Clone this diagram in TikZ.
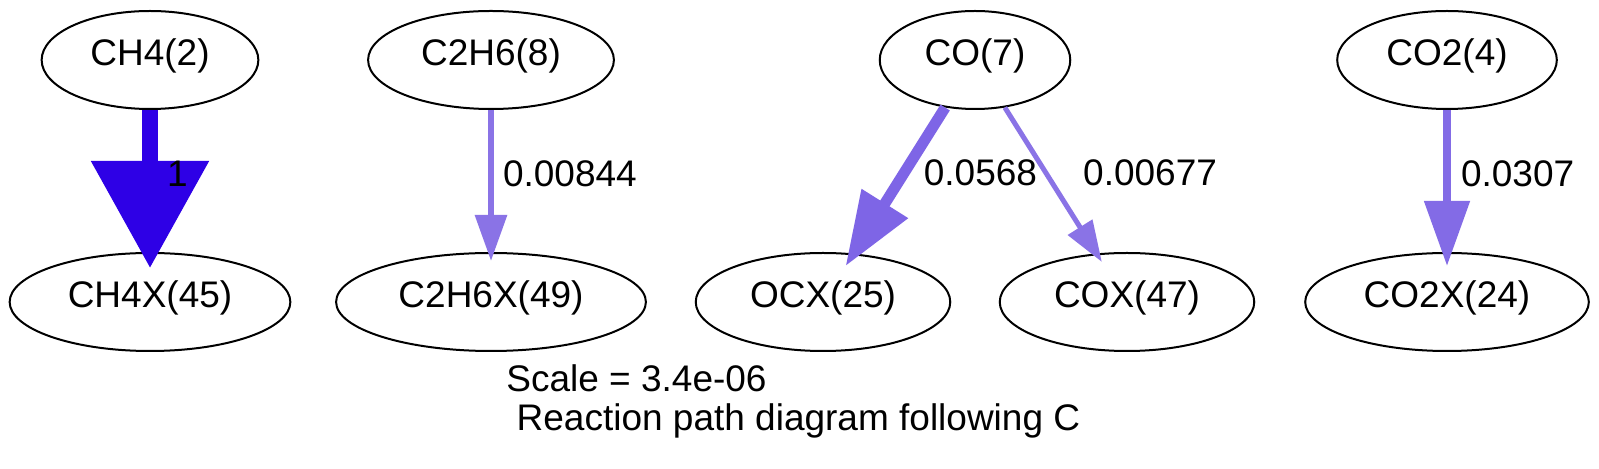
\documentclass[tikz,border=0pt]{standalone}
\usepackage{fontspec}
\setmainfont{Liberation Sans}
\usepackage{tikz}
\usetikzlibrary{arrows.meta,shapes.geometric,positioning}
\definecolor{fluxA}{RGB}{46,0,230}
\definecolor{fluxB}{RGB}{126,101,230}
\definecolor{fluxC}{RGB}{131,107,230}
\definecolor{fluxD}{RGB}{138,115,230}

\begin{document}
\begin{tikzpicture}[x=0.5pt, y=-0.5pt,
		font=\fontsize{18.5pt}{19.5pt}\selectfont,
		species/.style={draw, ellipse, line width=1pt, inner xsep=8.5pt, inner ysep=3pt,
			minimum height=49pt, text height=0.75em, text depth=0.2em},
		flux/.style n args={5}{draw=#4, line width=#1, -{Triangle[length=#2, width=#3]}, shorten >=-#5},
		lbl/.style={inner sep=0pt, anchor=west, text height=0.75em, text depth=0.2em}]
		\fill[white] (0,0) rectangle (1599,469);
		\useasboundingbox (0,0) rectangle (1599,469);
		\node[species] (ch4) at (150,60) {CH4(2)};
		\node[species] (ch4x) at (150,302) {CH4X(45)};
		\node[species] (c2h6) at (491,60) {C2H6(8)};
		\node[species] (c2h6x) at (491,302) {C2H6X(49)};
		\node[species] (co) at (975,60) {CO(7)};
		\node[species] (ocx) at (823,302) {OCX(25)};
		\node[species] (cox) at (1127,302) {COX(47)};
		\node[species] (co2) at (1447,60) {CO2(4)};
		\node[species] (co2x) at (1447,302) {CO2X(24)};
		\draw[flux={8pt}{53.5pt}{57pt}{fluxA}{8pt}] (ch4) -- (ch4x) node[lbl, midway, xshift=4.5pt]{1};
		\draw[flux={3pt}{23pt}{15.5pt}{fluxD}{4.5pt}] (c2h6) -- (c2h6x) node[lbl, midway, xshift=4.5pt]{0.00844};
		\draw[flux={5.5pt}{37pt}{26pt}{fluxB}{7.5pt}] (co) -- (ocx) node[lbl, midway, xshift=9.5pt]{0.0568};
		\draw[flux={2.5pt}{20.5pt}{14pt}{fluxD}{5pt}] (co) -- (cox) node[lbl, midway, xshift=15pt]{0.00677};
		\draw[flux={4pt}{32.5pt}{22pt}{fluxC}{7pt}] (co2) -- (co2x) node[lbl, midway, xshift=5pt]{0.0307};
		\node[inner sep=0pt, anchor=base west] (scale) at (506,392) {Scale = 3.4e-06};
		\node[inner sep=0pt, anchor=base west] (title) at (506,431) {\mbox{}\ Reaction path diagram following C};
	\end{tikzpicture}
\end{document}
